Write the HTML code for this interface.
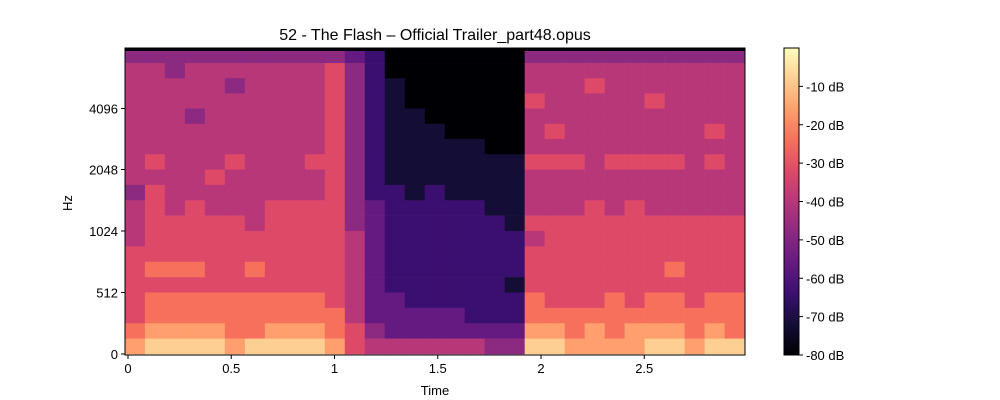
<!DOCTYPE html>
<html><head><meta charset="utf-8"><style>
html,body{margin:0;padding:0;background:#fff;width:1000px;height:400px;overflow:hidden}
svg text{font-family:"Liberation Sans","DejaVu Sans",sans-serif;fill:#000}
</style></head><body>
<svg id="chart" width="1000" height="400" viewBox="0 0 1000 400" xmlns="http://www.w3.org/2000/svg">
<defs>
<linearGradient id="magma" x1="0" y1="1" x2="0" y2="0">
<stop offset="0" stop-color="#000004"/><stop offset="0.1" stop-color="#140e36"/><stop offset="0.2" stop-color="#3b0f70"/><stop offset="0.3" stop-color="#641a80"/><stop offset="0.4" stop-color="#8c2981"/><stop offset="0.5" stop-color="#b73779"/><stop offset="0.6" stop-color="#de4968"/><stop offset="0.7" stop-color="#f7705c"/><stop offset="0.8" stop-color="#fe9f6d"/><stop offset="0.9" stop-color="#fecf92"/><stop offset="1" stop-color="#fcfdbf"/>
</linearGradient>
</defs>
<text x="435" y="40" font-size="16" text-anchor="middle">52 - The Flash – Official Trailer_part48.opus</text>
<g id="cells"></g>
<rect x="125" y="48" width="620" height="3" fill="#000004"/>
<rect x="125" y="48" width="620" height="307" fill="none" stroke="#000" stroke-width="1"/>
<g id="xaxis"></g>
<g id="yaxis"></g>
<text x="435" y="395" font-size="13" text-anchor="middle">Time</text>
<text x="72" y="203" font-size="13" text-anchor="middle" transform="rotate(-90 72 203)">Hz</text>
<rect x="784" y="48" width="15" height="307" fill="url(#magma)" stroke="#000" stroke-width="1"/>
<g id="cbaxis"></g>
</svg>
<script>
// ---- data ----
const tStart = -0.015;
const tStep = 0.0968;
const uStep = 0.25; // frequency rows in scale units (u=1 -> 512 Hz, each +1 doubles)
const xTicks = [0, 0.5, 1, 1.5, 2, 2.5];
const xTickLabels = ["0", "0.5", "1", "1.5", "2", "2.5"];
const yTicks = [0, 512, 1024, 2048, 4096];
const yTickLabels = ["0", "512", "1024", "2048", "4096"];
const cbTicks = [-10, -20, -30, -40, -50, -60, -70, -80];
const cbTickLabels = ["-10 dB", "-20 dB", "-30 dB", "-40 dB", "-50 dB", "-60 dB", "-70 dB", "-80 dB"];
// level rows, top (high freq) to bottom; dB = -80 + level*8
const levels = [
"4444444444432000000044444444444",
"5545555555642000000055555555555",
"5555545555642100000055565555555",
"5555555555642100000065555565555",
"5554555555642110000055555555555",
"5555555555642111000056555555565",
"5555555555642111110055555555555",
"5655565556642111111166656666565",
"5555655555642111111155555555555",
"4655555555642212111155555555555",
"5656555666643222221155565655555",
"5666665666643222222166666666666",
"5666666666653222222256666666666",
"6666666666653222222266666666666",
"6777667666653222222266666667666",
"6666666666653222222166666666666",
"6777777777653322222276667677677",
"6777777777753333322277777777777",
"7888877888764333333388787888787",
"8999989999865555554499888899899"
];
// ---- scales ----
const X0 = 125, X1 = 745, Y0 = 48, Y1 = 355;
const pxPerSec = 206.5, t0px = 128;
function xScale(t){ return t0px + t * pxPerSec; }
const uPx = [354, 292.5, 231, 169.5, 108.5, 48];
function yScaleU(u){ const i = Math.min(4, Math.floor(u)); return uPx[i] + (uPx[i+1]-uPx[i])*(u-i); }
function hzToU(f){ return f <= 512 ? f/512 : 1 + Math.log2(f/512); }
function yScale(f){ return yScaleU(hzToU(f)); }
function cbScale(db){ return Y1 - (db + 80) / 80 * (Y1 - Y0); }
const magma = ["#000004","#140e36","#3b0f70","#641a80","#8c2981","#b73779","#de4968","#f7705c","#fe9f6d","#fecf92","#fcfdbf"];
function hex(c){ return [parseInt(c.slice(1,3),16),parseInt(c.slice(3,5),16),parseInt(c.slice(5,7),16)]; }
function color(db){
  let f = Math.max(0, Math.min(1, (db + 80) / 80)) * 10;
  const i = Math.min(9, Math.floor(f)), r = f - i;
  const a = hex(magma[i]), b = hex(magma[i+1]);
  return "rgb(" + a.map((v,k)=>Math.round(v+(b[k]-v)*r)).join(",") + ")";
}
const NS = "http://www.w3.org/2000/svg";
function mk(tag, attrs, parent){ const e = document.createElementNS(NS, tag); for (const k in attrs) e.setAttribute(k, attrs[k]); parent.appendChild(e); return e; }
// ---- cells ----
const cells = document.getElementById("cells");
const nRows = levels.length;
levels.forEach((row, r) => {
  const uTop = (nRows - r) * uStep, uBot = (nRows - r - 1) * uStep;
  const yT = yScaleU(uTop), yB = yScaleU(uBot);
  for (let c = 0; c < row.length; c++) {
    const db = -80 + parseInt(row[c]) * 8;
    const xa = Math.max(X0, xScale(tStart + c * tStep)), xb = Math.min(X1, xScale(tStart + (c + 1) * tStep));
    const el = mk("rect", {x: xa, y: Math.min(yT, Y1), width: Math.max(0, xb - xa + 0.3), height: Math.max(0, Math.min(yB, Y1) - yT + 0.3), fill: color(db)}, cells);
    
    
  }
});
// ---- axes ----
const xa = document.getElementById("xaxis");
xTicks.forEach((t, i) => {
  const x = xScale(t);
  const tk = mk("line", {x1: x, x2: x, y1: Y1, y2: Y1 + 4, stroke: "#000"}, xa);
  
  
  const lb = mk("text", {x: x, y: Y1 + 18, "font-size": 13, "text-anchor": "middle"}, xa);
  lb.textContent = xTickLabels[i];
  
  
});
const ya = document.getElementById("yaxis");
yTicks.forEach((f, i) => {
  const y = yScale(f);
  const tk = mk("line", {x1: X0 - 4, x2: X0, y1: y, y2: y, stroke: "#000"}, ya);
  
  
  const lb = mk("text", {x: X0 - 7, y: y + 5, "font-size": 13, "text-anchor": "end"}, ya);
  lb.textContent = yTickLabels[i];
  
  
});
const cb = document.getElementById("cbaxis");
cbTicks.forEach((d, i) => {
  const y = cbScale(d);
  const tk = mk("line", {x1: 799, x2: 803, y1: y, y2: y, stroke: "#000"}, cb);
  
  
  const lb = mk("text", {x: 806, y: y + 5, "font-size": 13}, cb);
  lb.textContent = cbTickLabels[i];
  
  
});
</script>
</body></html>
